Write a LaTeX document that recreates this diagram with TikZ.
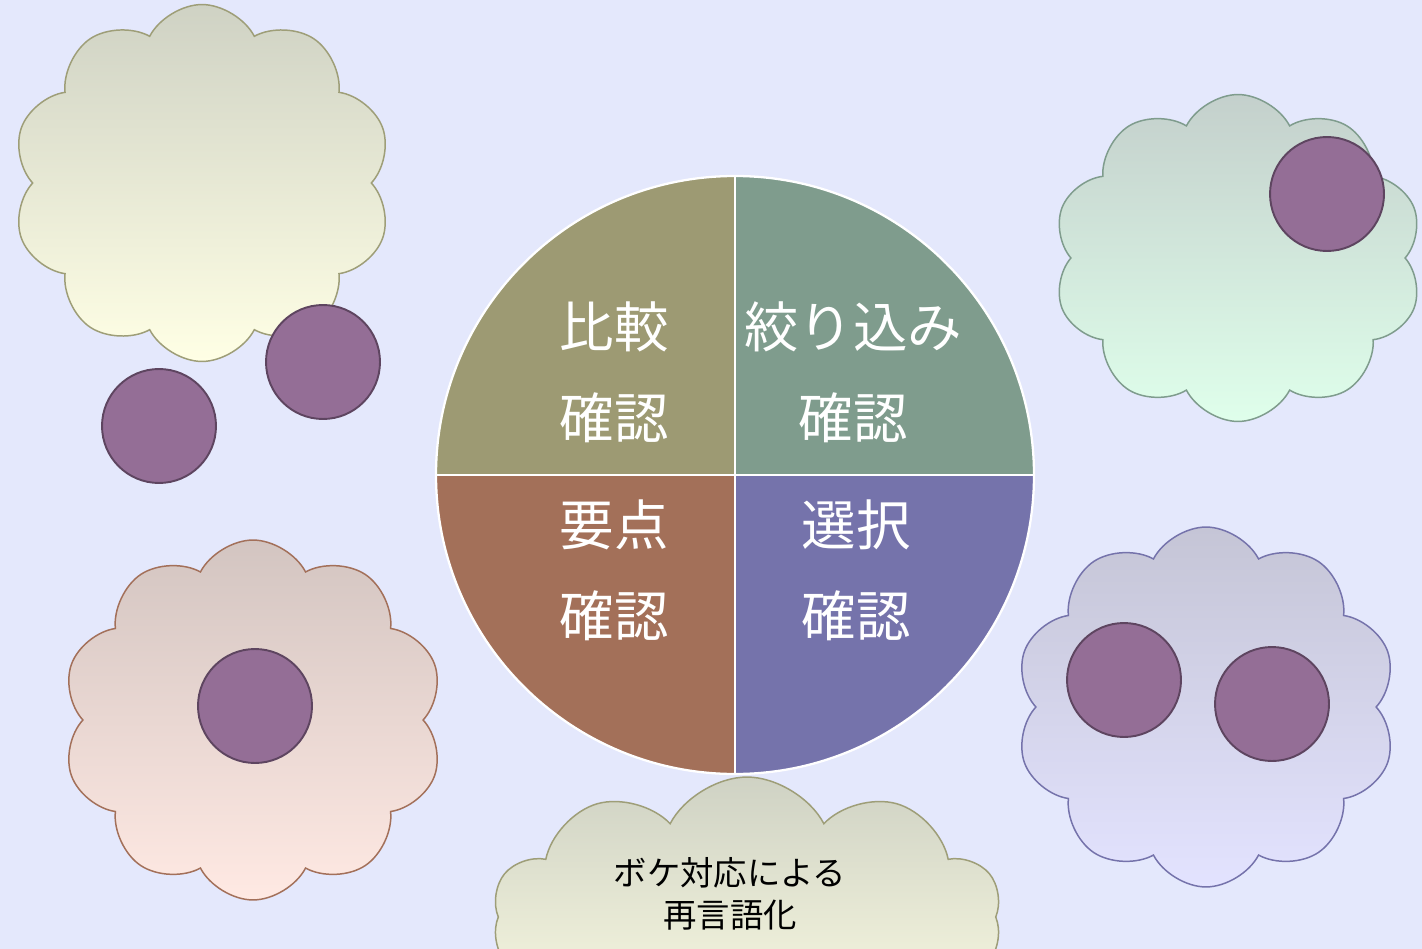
\documentclass[tikz,border=0pt]{standalone}
\usepackage{fontspec}
\usepackage{tikz}
\usetikzlibrary{shapes.symbols}
\newfontfamily\jpfont{Noto Sans CJK JP}
\definecolor{bgcol}{RGB}{228,232,252}
\definecolor{olivecol}{RGB}{157,154,115}
\definecolor{sagecol}{RGB}{127,156,141}
\definecolor{browncol}{RGB}{163,112,89}
\definecolor{bluecol}{RGB}{117,115,171}
\definecolor{dotfill}{RGB}{148,110,150}
\definecolor{dotline}{RGB}{94,69,96}
\definecolor{oliveline}{RGB}{158,158,120}
\definecolor{sageline}{RGB}{127,156,141}
\definecolor{brownline}{RGB}{163,112,90}
\definecolor{blueline}{RGB}{117,115,171}

\begin{document}
\begin{tikzpicture}[x=0.02cm,y=-0.02cm]
  \tikzstyle{every node}+=[inner sep=0pt]
  \tikzset{
    cloudbox/.style={cloud, cloud puffs=10, cloud puff arc=125, cloud ignores aspect, line width=0.85pt},
    dot/.style={circle, fill=dotfill, draw=dotline, line width=1.1pt, minimum size=2.28cm},
    pielabel/.style={text=white, font=\jpfont\fontsize{31}{34}\selectfont},
  }
  \useasboundingbox (0,0) rectangle (1422,949);
  \clip (0,0) rectangle (1422,949);
  \fill[bgcol] (0,0) rectangle (1422,949);

  % clouds
  \node[cloudbox, draw=oliveline, top color={rgb,255:red,207;green,210;blue,196}, bottom color={rgb,255:red,255;green,255;blue,229},
        minimum width=7.6cm, minimum height=7.14cm] (cloudtl) at (202,183) {};
  \node[cloudbox, draw=sageline, top color={rgb,255:red,196;green,208;blue,204}, bottom color={rgb,255:red,223;green,255;blue,235},
        minimum width=7.4cm, minimum height=6.54cm] (cloudtr) at (1238,258) {};
  \node[cloudbox, draw=brownline, top color={rgb,255:red,211;green,197;blue,193}, bottom color={rgb,255:red,255;green,233;blue,227},
        minimum width=7.64cm, minimum height=7.2cm] (cloudbl) at (253,720) {};
  \node[cloudbox, draw=blueline, top color={rgb,255:red,197;green,197;blue,214}, bottom color={rgb,255:red,227;green,227;blue,255},
        minimum width=7.64cm, minimum height=7.2cm] (cloudbr) at (1206,707) {};
  \node[cloudbox, draw=oliveline, top color={rgb,255:red,207;green,210;blue,196}, bottom color={rgb,255:red,255;green,255;blue,229},
        minimum width=10.2cm, minimum height=5.6cm] (cloudbot) at (747,917) {};

  % pie
  \coordinate (pc) at (735,475);
  \fill[olivecol] (pc) -- ++(-299,0) arc[start angle=180, end angle=270, radius=299] -- cycle;
  \fill[sagecol] (pc) -- ++(0,-299) arc[start angle=270, end angle=360, radius=299] -- cycle;
  \fill[bluecol] (pc) -- ++(299,0) arc[start angle=0, end angle=90, radius=299] -- cycle;
  \fill[browncol] (pc) -- ++(0,299) arc[start angle=90, end angle=180, radius=299] -- cycle;
  \draw[white, line width=1.3pt] (pc) circle[radius=299];
  \draw[white, line width=1.3pt] (pc) ++(-299,0) -- ++(598,0);
  \draw[white, line width=1.3pt] (pc) ++(0,-299) -- ++(0,598);

  \node[pielabel] (hikaku) at (614,327) {比較};
  \node[pielabel] (kakunin1) at (614,418) {確認};
  \node[pielabel] (shibori) at (853,327) {絞り込み};
  \node[pielabel] (kakunin2) at (853,418) {確認};
  \node[pielabel] (yoten) at (614,525) {要点};
  \node[pielabel] (kakunin3) at (614,616) {確認};
  \node[pielabel] (sentaku) at (856,525) {選択};
  \node[pielabel] (kakunin4) at (856,616) {確認};

  \node[font=\jpfont\fontsize{19}{24}\selectfont, align=center] (bokenote) at (730,894) {ボケ対応による\\再言語化};

  % dots
  \node[dot] (dot1) at (323,362) {};
  \node[dot] (dot2) at (159,426) {};
  \node[dot] (dot3) at (1327,194) {};
  \node[dot] (dot4) at (255,706) {};
  \node[dot] (dot5) at (1124,680) {};
  \node[dot] (dot6) at (1272,704) {};
\end{tikzpicture}
\end{document}
